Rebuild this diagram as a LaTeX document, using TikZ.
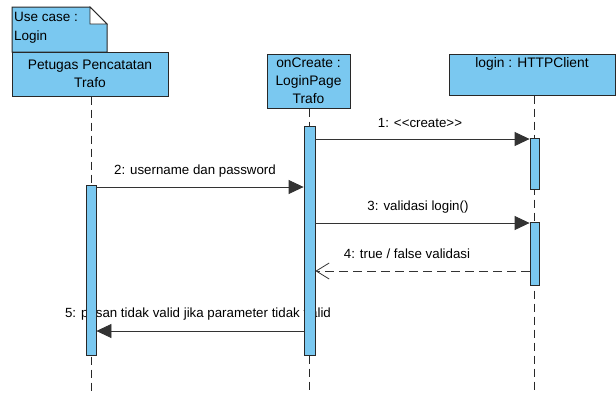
\documentclass[tikz,border=0pt]{standalone}
\usepackage{fontspec}
\setmainfont{Liberation Sans}
\usetikzlibrary{arrows.meta}
\definecolor{uml}{RGB}{122,200,240}
\definecolor{edge}{RGB}{40,40,40}
\begin{document}
\begin{tikzpicture}[x=1pt,y=-1pt,
 head/.style={draw=edge, fill=uml, line width=1pt, inner sep=0pt, align=center, font=\fontsize{13.8}{18}\selectfont},
 bar/.style={draw=edge, fill=uml, line width=0.8pt, inner sep=0pt},
 life/.style={draw=edge, line width=0.8pt, dash pattern=on 8pt off 5pt},
 msg/.style={draw=black!80, line width=0.8pt, -{Triangle[length=15pt,width=14pt]}},
 ret/.style={draw=black!80, line width=0.8pt, dash pattern=on 9pt off 5pt, -{Straight Barb[length=13pt,width=16pt]}},
 lbl/.style={font=\fontsize{13.3}{15}\selectfont, inner sep=0pt}]
\useasboundingbox (0,0) rectangle (616,392);
% note
\filldraw[draw=edge, fill=uml, line width=1pt] (12,7) -- (90,7) -- (107,24) -- (107,52) -- (12,52) -- cycle;
\filldraw[draw=edge, fill=white, line width=0.8pt] (90,7) -- (107,24) -- (90,24) -- cycle;
\node[lbl, anchor=west, align=left, font=\fontsize{13.5}{19}\selectfont] (note) at (14,28) {Use case :\\Login};
% heads
\node[head, minimum width=156pt, minimum height=44pt] (p) at (90,74) {Petugas Pencatatan\\Trafo};
\node[head, minimum width=83pt, minimum height=54pt] (o) at (308.5,81) {onCreate :\\LoginPage\\Trafo};
\node[head, minimum width=166pt, minimum height=41pt] (l) at (532,74.5) {};
\node[lbl, font=\fontsize{13.8}{18}\selectfont] (lt) at (532,64) {login : HTTPClient};
% lifelines
\coordinate (pend) at (91,392);
\coordinate (oend) at (309.5,392);
\coordinate (lend) at (534,392);
\draw[life] (p.south -| pend) -- (pend);
\draw[life] (o.south -| oend) -- (oend);
\draw[life] (l.south -| lend) -- (lend);
% labels
\node[lbl] (m1) at (420,123) {1: {<}{<}create{>}{>}};
\node[lbl] (m2) at (195,171) {2: username dan password};
\node[lbl] (m3) at (418,207) {3: validasi login()};
\node[lbl] (m4) at (407,254) {4: true / false validasi};
\node[lbl] (m5) at (198,314) {5: pesan tidak valid jika parameter tidak valid};
% activation bars
\node[bar, minimum width=10pt, minimum height=170pt] (pb) at (91,270) {};
\node[bar, minimum width=11pt, minimum height=229pt] (ob) at (309.5,240.5) {};
\node[bar, minimum width=9pt, minimum height=51pt] (lb1) at (534.5,163.5) {};
\node[bar, minimum width=9pt, minimum height=63pt] (lb2) at (534.5,253.5) {};
% messages
\draw[msg] (ob.east |- 0,139) -- (lb1.west |- 0,139);
\draw[msg] (pb.east |- 0,187) -- (ob.west |- 0,187);
\draw[msg] (ob.east |- 0,223) -- (lb2.west |- 0,223);
\draw[ret] (lb2.west |- 0,271) -- (ob.east |- 0,271);
\draw[msg] (ob.west |- 0,331) -- (pb.east |- 0,331);
\end{tikzpicture}
\end{document}
